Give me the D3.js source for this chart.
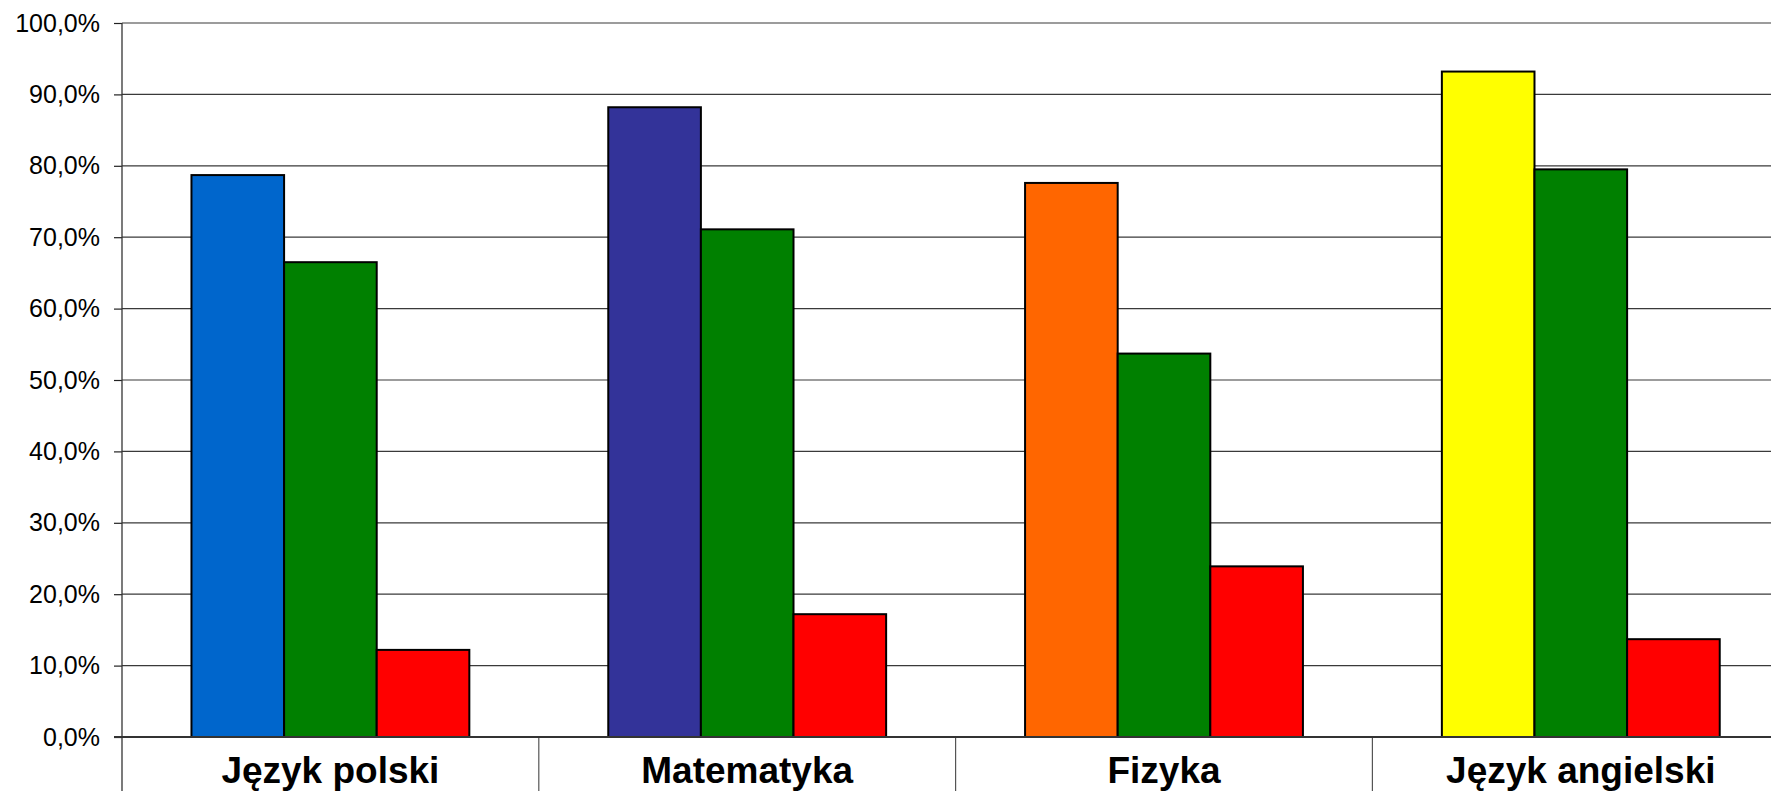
<!DOCTYPE html>
<html>
<head>
<meta charset="utf-8">
<script src="https://cdn.jsdelivr.net/npm/d3@7"></script>
<style>
  body { margin: 0; background: #fff; }
  svg { display: block; }
</style>
</head>
<body>
<svg id="chart"></svg>
<script>
// data
var categories = ["Język polski", "Matematyka", "Fizyka", "Język angielski"];
var series1 = [78.7, 88.2, 77.6, 93.2];   // colored per category
var series2 = [66.5, 71.1, 53.7, 79.5];
var series3 = [12.2, 17.2, 23.9, 13.7];
var firstColors = ["#0066CC", "#333399", "#FF6600", "#FFFF00"];
var yTicks = [0, 10, 20, 30, 40, 50, 60, 70, 80, 90, 100];

var W = 1771, H = 791;
var svg = d3.select("#chart").attr("width", W).attr("height", H);

// note: "top" is taken by window.top, so plot edges get their own names
var plotLeft = 122, plotTop = 23, plotBottom = 737;
var catWidth = 416.8; // plot runs off the right edge
var x = d3.scaleBand().domain(categories).range([plotLeft, plotLeft + catWidth * categories.length]).padding(0);
var y = d3.scaleLinear().domain([0, 100]).range([plotBottom, plotTop]);

// Excel-style gap width 150%
var barW = x.bandwidth() / (3 + 1.5);
var inner = d3.scaleBand().domain([0, 1, 2])
    .range([barW * 0.75, barW * 0.75 + barW * 3]).padding(0);

// gridlines
svg.append("g").selectAll("line").data(yTicks.slice(1)).enter().append("line")
    .attr("x1", plotLeft).attr("x2", W)
    .attr("y1", function(d){ return y(d); })
    .attr("y2", function(d){ return y(d); })
    .attr("stroke", "#3a3a3a").attr("stroke-width", 1.2);

// y axis
var yAxis = d3.axisLeft(y).tickValues(yTicks).tickSize(8).tickPadding(14)
    .tickFormat(function(d){ return d.toFixed(1).replace(".", ",") + "%"; });
var gy = svg.append("g").attr("transform", "translate(" + plotLeft + ",0)").call(yAxis);
gy.select(".domain").remove();
gy.selectAll(".tick line").attr("stroke", "#222").attr("stroke-width", 1.2);
gy.selectAll(".tick text")
    .attr("font-family", "Liberation Sans, Arial, sans-serif")
    .attr("font-size", 25).attr("fill", "#000");

// bars
var rows = [];
categories.forEach(function(c, i){
    rows.push({cat: c, s: 0, v: series1[i], color: firstColors[i]});
    rows.push({cat: c, s: 1, v: series2[i], color: "#008000"});
    rows.push({cat: c, s: 2, v: series3[i], color: "#FF0000"});
});

svg.append("g").selectAll("rect").data(rows).enter().append("rect")
    .attr("x", function(d){ return x(d.cat) + inner(d.s); })
    .attr("y", function(d){ return y(d.v); })
    .attr("width", inner.bandwidth())
    .attr("height", function(d){ return y(0) - y(d.v); })
    .attr("fill", function(d){ return d.color; })
    .attr("stroke", "#000").attr("stroke-width", 2);

// left axis line (runs down through category area)
svg.append("line")
    .attr("x1", plotLeft).attr("x2", plotLeft).attr("y1", plotTop).attr("y2", H)
    .attr("stroke", "#333").attr("stroke-width", 1.3);

// category separators
svg.append("g").selectAll("line").data(categories.slice(1)).enter().append("line")
    .attr("x1", function(d){ return x(d); }).attr("x2", function(d){ return x(d); })
    .attr("y1", plotBottom).attr("y2", H)
    .attr("stroke", "#555").attr("stroke-width", 1.2);

// baseline
svg.append("line")
    .attr("x1", plotLeft - 8).attr("x2", W).attr("y1", y(0)).attr("y2", y(0))
    .attr("stroke", "#333").attr("stroke-width", 2);

// category labels
svg.append("g").selectAll("text").data(categories).enter().append("text")
    .attr("x", function(d){ return x(d) + x.bandwidth() / 2; })
    .attr("y", 783)
    .attr("text-anchor", "middle")
    .attr("font-family", "Liberation Sans, Arial, sans-serif")
    .attr("font-weight", "bold")
    .attr("font-size", 37)
    .text(function(d){ return d; });
</script>
</body>
</html>
